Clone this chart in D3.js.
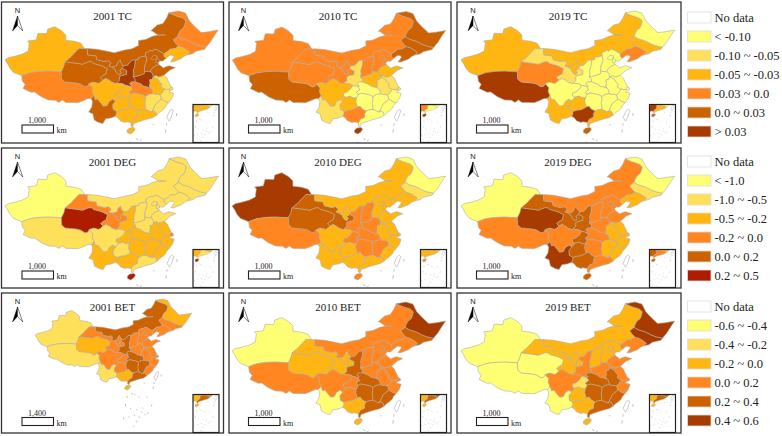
<!DOCTYPE html>
<html>
<head>
<meta charset="utf-8">
<script src="https://cdn.jsdelivr.net/npm/d3@7"></script>
<style>
  html, body { margin: 0; padding: 0; background: #fff; }
  text { font-family: "Liberation Serif", serif; fill: #222; }
</style>
</head>
<body>
<div id="chart"></div>
<script>
// province order used by every value array below (TW has no data)
const provinces = ['XJ','XZ','QH','GS','NM','NX','SN','SX','HE','BJ','TJ','LN','JL','HL','SD','HA','JS','SH','AH','ZJ','HB','HN','JX','FJ','GD','GX','HI','SC','CQ','GZ','YN','TW'];

const tc2001 = [-0.04,-0.01,0.02,0.02,0.02,0.02,0.05,0.02,0.02,0.02,0.02,-0.04,-0.01,-0.01,0.02,0.05,-0.07,-0.07,-0.04,-0.07,-0.01,-0.04,-0.07,-0.07,-0.04,-0.04,-0.04,-0.04,-0.04,-0.04,0.02,null];
const tc2010 = [-0.01,0.02,-0.01,-0.01,-0.01,-0.01,-0.07,-0.01,-0.01,-0.01,-0.01,0.02,0.02,0.02,-0.04,-0.04,-0.07,-0.07,-0.07,-0.12,-0.12,-0.12,-0.12,-0.12,-0.12,-0.01,0.05,-0.04,-0.12,-0.04,-0.07,null];
const tc2019 = [-0.04,0.05,-0.01,-0.07,-0.04,-0.04,-0.12,-0.12,-0.12,-0.12,-0.12,-0.01,-0.04,-0.12,-0.12,-0.12,-0.12,-0.12,-0.12,-0.12,-0.12,-0.12,-0.12,-0.12,-0.04,0.05,0.02,-0.12,-0.12,-0.04,-0.04,null];

const deg2001 = [-1.2,-0.7,0.4,-0.1,-0.7,-0.1,-0.3,-0.7,-0.7,-0.7,-0.7,-0.7,-0.7,-0.7,-0.7,-0.7,-0.3,-0.1,-0.3,-0.3,-0.3,-0.3,-0.3,-0.3,-0.7,-0.3,0.4,-0.7,-0.3,-0.7,-0.3,null];
const deg2010 = [0.25,-0.1,0.1,0.1,-0.3,-0.3,-0.1,-0.1,-0.3,-0.3,-0.3,-0.3,-0.7,-1.2,-0.3,-0.1,-0.3,-0.3,-0.3,-0.3,-0.1,-0.1,-0.1,-0.3,-0.3,-0.3,-0.1,-0.3,-0.1,-0.3,-0.3,null];
const deg2019 = [-1.2,-0.1,0.25,0.1,-0.1,0.1,0.1,-0.1,-0.1,-0.1,-0.1,-0.3,-0.7,-1.2,-0.1,-0.1,-0.3,-0.3,-0.3,-0.3,-0.1,-0.1,-0.3,-0.3,-0.1,0.1,0.1,-0.1,0.1,0.1,0.25,null];

const bet2001 = [-0.3,-0.3,-0.1,0.1,0.3,0.1,0.3,0.1,0.1,0.1,0.1,0.1,0.1,-0.1,0.1,0.1,0.1,0.1,0.1,0.1,0.3,0.3,0.3,0.1,0.3,-0.1,-0.1,0.1,0.1,0.1,-0.3,null];
const bet2010 = [-0.5,0.1,-0.1,-0.1,0.1,-0.1,0.3,0.1,0.1,0.1,0.1,0.1,0.3,0.5,0.1,0.1,0.1,0.1,0.1,0.1,0.3,0.3,0.3,0.3,0.3,-0.1,-0.1,0.1,0.1,0.1,-0.5,null];
const bet2019 = [-0.5,-0.5,-0.5,-0.1,-0.1,-0.1,0.1,-0.1,-0.1,-0.1,-0.1,0.1,0.5,0.5,0.1,0.1,0.1,0.1,0.3,0.1,0.3,0.3,0.3,0.3,0.3,-0.1,-0.1,0.1,-0.3,-0.1,-0.5,null];

const tcLabels = ['< -0.10','-0.10 ~ -0.05','-0.05 ~ -0.03','-0.03 ~ 0.0','0.0 ~ 0.03','> 0.03'];
const degLabels = ['< -1.0','-1.0 ~ -0.5','-0.5 ~ -0.2','-0.2 ~ 0.0','0.0 ~ 0.2','0.2 ~ 0.5'];
const betLabels = ['-0.6 ~ -0.4','-0.4 ~ -0.2','-0.2 ~ 0.0','0.0 ~ 0.2','0.2 ~ 0.4','0.4 ~ 0.6'];

const tcBreaks = [-0.10,-0.05,-0.03,0,0.03];
const degBreaks = [-1,-0.5,-0.2,0,0.2,0.3];
const betBreaks = [-0.4,-0.2,0,0.2,0.4];

const ramp = ['#ffff73','#ffe05a','#ffb613','#ff8620','#cc6200','#a83c00'];
const degRamp = ['#ffff73','#ffe05a','#ffb613','#ff8620','#cc6200','#a83c00','#ad1e00'];
const degLegend = ['#ffff73','#ffe05a','#ffb613','#ff8620','#cc6200','#ad1e00'];

// shared province borders, lon/lat, rough tracing
const arcs = {
  xjOut: [[78.3,35],[76,35.9],[75,37],[74.2,38.5],[73.5,39.5],[74.5,40.2],[76,40.5],[78.5,41.2],[80.2,42.1],[80.3,43],[80.5,44.4],[80,45],[82.5,45.3],[83,47.2],[85.5,47.1],[85.8,48.4],[87.8,49.1],[89.7,48],[91,46.7],[91,45.2],[93.5,44.9],[95.4,44.3],[96.4,42.75]],
  xjGs: [[96.4,42.75],[94.8,42.8],[93.5,41.5],[92.3,40.2],[90.8,39]],
  xjQh: [[90.8,39],[90.4,37.5],[89.7,36.1]],
  xjXz: [[89.7,36.1],[86,36.3],[83,36.2],[80.5,35.8],[78.3,35]],
  xzQh: [[89.7,36.1],[89.8,34],[90.8,33.2],[92.5,33],[94,32.9],[95.2,32.6],[96.5,31.8],[97.3,32],[97.7,32.7]],
  xzSc: [[97.7,32.7],[98.8,31.5],[98.6,30.5],[99.1,29.2]],
  xzYn: [[99.1,29.2],[98.3,28.4]],
  xzOut: [[98.3,28.4],[97.4,28.4],[96,27.8],[94.5,27.2],[92.5,27.3],[91,27.3],[90,28],[89,27.3],[88,27.9],[86,28],[84,28.9],[82,30.3],[81,30.2],[78.7,31.3],[79.3,32.5],[78.5,33.4],[78.3,35]],
  qhGs: [[90.8,39],[93,38.7],[94.5,38.5],[95.8,38.3],[97.5,39],[98.5,39],[99,38.5],[100.5,38.1],[101.5,37.8],[103,37],[102.8,36.3],[102.6,35.5],[101.6,35],[101,34.4],[101.7,33.7]],
  qhSc: [[101.7,33.7],[100.5,32.7],[99,33.1],[97.7,32.7]],
  gsMn: [[96.4,42.75],[97.2,42.8]],
  gsNm: [[97.2,42.8],[97.3,41],[98.5,40.8],[99.7,40.7],[100,39.6],[102,39.1],[103.4,39.3],[104,38.5],[103.4,37.8],[104.3,37.45]],
  gsNx: [[104.3,37.45],[105.2,36.8],[105.4,36.2],[106,35.5],[106.5,35.3],[106.9,35.9],[106.5,36.5],[107.3,37.1]],
  gsSn: [[107.3,37.1],[108.6,36.4],[108.5,35.3],[107,35],[106.5,34.7],[106.5,33.6],[105.5,32.7]],
  gsSc: [[105.5,32.7],[104.4,33],[103.5,33.7],[102.5,34.2],[101.7,33.7]],
  nmOut: [[97.2,42.8],[100,42.6],[102,42.2],[105,41.6],[108,42.4],[110,42.7],[112,43.7],[111.9,45.1],[114,45.4],[116,46.3],[118,46.8],[119.8,46.7],[117.8,46.5],[116,47.8],[115.5,47.9],[117.4,49.6],[119,50],[120,51.5],[120.7,53.1]],
  nmHl: [[120.7,53.1],[122.5,52.3],[124.7,51.6],[125.6,50.8],[125.4,49.8],[125,48.8],[124,48],[123.5,47],[123.3,46.3]],
  nmJl: [[123.3,46.3],[122,45.3],[122.7,44.3],[123.5,43.5]],
  nmLn: [[123.5,43.5],[122.5,42.8],[121,42.6],[120.5,42.1],[119.3,41.3]],
  nmHe: [[119.3,41.3],[118,42],[117.4,42.4],[116.5,42.6],[116,42],[115.5,42.3],[114,41.5],[114.1,40.7]],
  nmSx: [[114.1,40.7],[113.8,40.6],[112,40.2],[111.9,39.6],[111.1,39.5]],
  nmSn: [[111.1,39.5],[110,39.4],[108.8,38],[107.6,37.8]],
  nmNx: [[107.6,37.8],[106.8,38.7],[106.7,39.4],[106,38.8],[105.8,38],[105.2,37.6],[104.3,37.45]],
  nxSn: [[107.6,37.8],[107.3,37.1]],
  snSx: [[111.1,39.5],[110.9,37.8],[110.5,36.5],[110.6,35.6],[110.4,34.6]],
  snHa: [[110.4,34.6],[111,34],[111,33.2]],
  snHb: [[111,33.2],[110,33.2],[109.4,32.7],[110.1,32],[109.5,31.9]],
  snCq: [[109.5,31.9],[108.2,32.2]],
  snSc: [[108.2,32.2],[107.2,32.7],[106,32.8],[105.5,32.7]],
  sxHe: [[114.1,40.7],[114.4,39.5],[114,38.5],[113.7,37.5],[113.7,36.4]],
  sxHa: [[113.7,36.4],[113.7,35.6],[112.5,35.1],[111.5,34.8],[110.4,34.6]],
  heLn: [[119.3,41.3],[119.3,40.6],[119.9,40]],
  heCoast: [[119.9,40],[119,39.2],[118,39.2],[117.6,38.7],[117.85,38.2]],
  heSd: [[117.85,38.2],[116.8,37.8],[115.8,37],[115.4,36.1]],
  heHa: [[115.4,36.1],[114,36.2],[113.7,36.4]],
  lnJl: [[123.5,43.5],[124.8,43.1],[125.8,42.5],[126.8,41.7],[126,41]],
  lnCoast: [[126,41],[125,40.5],[124.3,39.9],[122,39],[121.2,39],[122.2,40.4],[121.9,40.8],[121,40.9],[119.9,40]],
  jlHl: [[123.3,46.3],[124.5,45.6],[126.5,45],[128,44.2],[129.5,43.6],[131.4,43.2]],
  jlOut: [[131.4,43.2],[131,42.6],[130.2,42.4],[128.5,42],[127.5,41.3],[126,41]],
  hlOut: [[120.7,53.1],[123.5,53.6],[125.5,53],[126.6,50.8],[128,49.3],[130,47.4],[132,47.6],[134.9,48.1],[133.8,46.5],[132.6,44.6],[131.4,43.2]],
  sdCoast: [[117.85,38.2],[118.9,37.4],[119.1,37.2],[120,37.6],[120.8,37.85],[122.6,37.3],[121,36.6],[120.3,36],[119.3,35.1]],
  sdJs: [[119.3,35.1],[118.4,34.7],[117.6,34.6],[117,35],[116.2,34.6]],
  sdHa: [[116.2,34.6],[116,35.6],[115.4,36.1]],
  haAh: [[116.2,34.6],[115.9,33.9],[115.2,33.8],[115.3,32.8],[115.1,32],[115.4,31.4]],
  haHb: [[115.4,31.4],[114.2,31.8],[113.5,31.9],[112.6,32.6],[111.5,33],[111,33.2]],
  jsCoast: [[119.3,35.1],[120.2,34.3],[120.5,33.5],[120.9,32.7],[121.3,31.85]],
  jsSh: [[121.3,31.85],[121.2,31.6],[120.9,31]],
  jsZj: [[120.9,31],[120.4,30.95],[119.5,31.1]],
  jsAh: [[119.5,31.1],[119.2,31.2],[118.4,31.8],[118.6,32.5],[118.3,32.9],[118,33.2],[117.5,34],[116.6,34.4],[116.2,34.6]],
  ahZj: [[119.5,31.1],[118.9,30.1],[118.2,29.4]],
  ahJx: [[118.2,29.4],[117.4,29.6],[116.7,29.6],[116.1,29.8]],
  ahHb: [[116.1,29.8],[116,30.5],[115.7,31.2],[115.4,31.4]],
  shCoast: [[121.3,31.85],[121.9,31.5],[121.9,31],[121.2,30.7]],
  shZj: [[121.2,30.7],[120.9,31]],
  zjCoast: [[121.2,30.7],[120.7,30.3],[121.7,30.1],[122.1,29.9],[121.8,29],[121.5,28.3],[120.6,27.2]],
  zjFj: [[120.6,27.2],[119.6,27.6],[118.8,28.1],[118.5,28.3]],
  zjJx: [[118.5,28.3],[118.2,29.4]],
  jxFj: [[118.5,28.3],[118,27.7],[117,27],[116.5,25.9],[116,24.9]],
  jxGd: [[116,24.9],[115.9,24.5],[115,24.8],[114,25.3]],
  jxHn: [[114,25.3],[114,26.2],[113.8,27],[114,28],[114,29]],
  jxHb: [[114,29],[115,29.6],[116.1,29.8]],
  fjCoast: [[120.6,27.2],[119.9,26.4],[119.6,25.7],[118.9,25],[118,24.4],[117.2,23.6]],
  fjGd: [[117.2,23.6],[116.8,24.6],[116,24.9]],
  gdCoast: [[117.2,23.6],[116,22.9],[114.5,22.5],[113.5,22.2],[112,21.7],[110.6,21.2],[110.3,20.3],[109.8,20.5],[109.8,21.5]],
  gdGx: [[109.8,21.5],[110.4,22.5],[111.5,23],[111.6,24.2],[112,24.8]],
  gdHn: [[112,24.8],[113,25.2],[114,25.3]],
  gxOut: [[109.8,21.5],[108.5,21.7],[108,21.5],[106.7,22],[106,22.9],[105.3,23.3]],
  gxYn: [[105.3,23.3],[105.6,24.1],[105.6,24.7]],
  gxGz: [[105.6,24.7],[106.9,25.1],[108,25.2],[109.5,26]],
  gxHn: [[109.5,26],[110.3,26.2],[110.9,25.4],[112,24.8]],
  hnGz: [[109.5,26],[109,27.5],[109.2,28.6]],
  hnCq: [[109.2,28.6],[109.7,29.6]],
  hnHb: [[109.7,29.6],[110.6,30],[112,29.7],[113,29.5],[114,29]],
  hbCq: [[109.7,29.6],[109.2,30.3],[110.2,31],[109.5,31.9]],
  cqGz: [[109.2,28.6],[108.3,28.6],[107.4,29.1],[106.3,28.8]],
  cqSc: [[106.3,28.8],[105.5,29.2],[105.6,30],[106.5,30.3],[107.5,31.1],[108.2,32.2]],
  gzYn: [[105.6,24.7],[104.6,25.3],[104.5,26.7],[105.3,27.7]],
  gzSc: [[105.3,27.7],[106.3,28.8]],
  scYn: [[105.3,27.7],[104.5,28.2],[103.5,27.5],[102.9,26.3],[101.8,26.2],[101,27.2],[100.2,28.2],[99.5,28],[99.1,29.2]],
  ynOut: [[105.3,23.3],[104,22.8],[102.5,22.6],[101.7,21.2],[100.5,21.5],[99.2,22.2],[98.8,24],[97.6,24.5],[98.5,26],[98.7,27.6],[98.3,28.4]],
  hiRing: [[110.6,20.1],[111,19.6],[110.5,18.8],[109.6,18.2],[108.7,18.6],[108.7,19.3],[109.3,19.9],[110.6,20.1]],
  bjRing: [[115.5,39.9],[116.3,40.9],[117.4,40.6],[117.1,39.9],[116.7,39.6],[115.9,39.6],[115.5,39.9]],
  tjRing: [[117.3,40.2],[117.9,39.5],[117.9,39.1],[117.6,38.6],[116.9,38.8],[117.1,39.5],[117.3,40.2]],
  twRing: [[121.6,25.3],[122,25],[121.4,23.1],[120.8,21.9],[120.1,23],[121,25],[121.6,25.3]]
};

// each ring is a list of arcs, '-' means walk it backwards
const rings = {
  XJ: ['xjOut','xjGs','xjQh','xjXz'],
  XZ: ['-xjXz','xzQh','xzSc','xzYn','xzOut'],
  QH: ['-xjQh','qhGs','qhSc','-xzQh'],
  GS: ['-xjGs','gsMn','gsNm','gsNx','gsSn','gsSc','-qhGs'],
  NM: ['nmOut','nmHl','nmJl','nmLn','nmHe','nmSx','nmSn','nmNx','-gsNm'],
  NX: ['-nmNx','nxSn','-gsNx'],
  SN: ['-nmSn','snSx','snHa','snHb','snCq','snSc','-gsSn','-nxSn'],
  SX: ['-nmSx','sxHe','sxHa','-snSx'],
  HE: ['-nmHe','heLn','heCoast','heSd','heHa','-sxHe'],
  BJ: ['bjRing'],
  TJ: ['tjRing'],
  LN: ['-nmLn','lnJl','lnCoast','-heLn'],
  JL: ['-nmJl','jlHl','jlOut','-lnJl'],
  HL: ['hlOut','-jlHl','-nmHl'],
  SD: ['-heSd','sdCoast','sdJs','sdHa'],
  HA: ['-sdHa','haAh','haHb','-snHa','-sxHa','-heHa'],
  JS: ['-sdJs','jsCoast','jsSh','jsZj','jsAh'],
  SH: ['-jsSh','shCoast','shZj'],
  AH: ['-haAh','-jsAh','ahZj','ahJx','ahHb'],
  ZJ: ['-jsZj','-shZj','zjCoast','zjFj','zjJx','-ahZj'],
  HB: ['-ahHb','-jxHb','-hnHb','hbCq','-snHb','-haHb'],
  HN: ['-gdHn','-gxHn','hnGz','hnCq','hnHb','-jxHn'],
  JX: ['-ahJx','-zjJx','jxFj','jxGd','jxHn','jxHb'],
  FJ: ['-zjFj','fjCoast','fjGd','-jxFj'],
  GD: ['-fjGd','gdCoast','gdGx','gdHn','-jxGd'],
  GX: ['-gdGx','gxOut','gxYn','gxGz','gxHn'],
  HI: ['hiRing'],
  SC: ['-snSc','-cqSc','-gzSc','scYn','-xzSc','-qhSc','-gsSc'],
  CQ: ['-snCq','-hbCq','-hnCq','cqGz','cqSc'],
  GZ: ['-hnGz','-gxGz','gzYn','gzSc','-cqGz'],
  YN: ['-scYn','-gzYn','-gxYn','ynOut','-xzYn'],
  TW: ['twRing']
};

// South China Sea dashes and islets
const seaDashes = [
  [[122.9,24.2],[122.9,23.4]],[[119.9,19.6],[119.7,18.6]],[[120.1,21.3],[120,20.6]],
  [[116.1,20.9],[116.5,20.8]],[[111.2,16.9],[111.9,16.5]],[[112.3,16.2],[112.8,16.6]],
  [[109.5,16],[109.6,15.1]],[[108.9,12.8],[109,11.9]],[[117.2,15.6],[117.7,15.2]],
  [[119.3,12.6],[119.1,11.8]],[[118,9.6],[117.5,8.9]],[[111.8,4.2],[112.4,3.9]],
  [[108.3,6.8],[108.1,7.6]],[[110.6,11.2],[111.1,10.8]],[[113.1,10.7],[113.6,10.3]],
  [[115,9.9],[115.5,9.3]],[[112.1,8.6],[112.7,8.2]],[[114.1,7.9],[114.7,7.5]],
  [[116.3,8.9],[116.8,8.4]],[[113,6.1],[113.6,5.9]],[[110.1,7.9],[110.5,7.4]],
  [[115.4,11.4],[115.9,11]],[[114,15.6],[114.4,15.3]]
];

const colX = [1.5, 229, 457];
const colW = [222, 222, 224];
const rowY = [2, 148, 293];
const rowH = [141, 140, 140];

// mapW/mapE: pixel x of 73.5E and 135E, mapN/mapS: pixel y of 53.6N and 18.2N
const panels = [
  { title:'2001 TC', values:tc2001, kind:'tc', col:0, row:0, mapW:5, mapE:218.5, mapN:11, mapS:134, km:'1,000' },
  { title:'2010 TC', values:tc2010, kind:'tc', col:1, row:0, mapW:232.3, mapE:446, mapN:11.5, mapS:134, km:'1,000' },
  { title:'2019 TC', values:tc2019, kind:'tc', col:2, row:0, mapW:461, mapE:675, mapN:11, mapS:134, km:'1,000' },
  { title:'2001 DEG', values:deg2001, kind:'deg', col:0, row:1, mapW:5, mapE:219, mapN:157, mapS:280, km:'1,000' },
  { title:'2010 DEG', values:deg2010, kind:'deg', col:1, row:1, mapW:232, mapE:446, mapN:157, mapS:280, km:'1,000' },
  { title:'2019 DEG', values:deg2019, kind:'deg', col:2, row:1, mapW:461, mapE:675, mapN:157, mapS:280, km:'1,000' },
  { title:'2001 BET', values:bet2001, kind:'bet', col:0, row:2, mapW:35, mapE:192, mapN:299, mapS:390, km:'1,400' },
  { title:'2010 BET', values:bet2010, kind:'bet', col:1, row:2, mapW:232, mapE:446, mapN:302, mapS:425, km:'1,000' },
  { title:'2019 BET', values:bet2019, kind:'bet', col:2, row:2, mapW:461, mapE:675, mapN:302, mapS:425, km:'1,000' }
];

const scales = {
  tc: d3.scaleThreshold().domain(tcBreaks).range(ramp),
  deg: d3.scaleThreshold().domain(degBreaks).range(degRamp),
  bet: d3.scaleThreshold().domain(betBreaks).range(ramp)
};

const width = 782, height = 436;
const borderGrey = '#adadad';

const svg = d3.select('#chart').append('svg')
  .attr('width', width)
  .attr('height', height)
  .style('display', 'block');

function ringCoords(names) {
  const out = [];
  names.forEach(n => {
    const back = n[0] === '-';
    const pts = arcs[back ? n.slice(1) : n].slice();
    if (back) pts.reverse();
    pts.forEach((p, i) => { if (i > 0 || out.length === 0) out.push(p); });
  });
  return out;
}

const features = provinces.map(id => ({
  type: 'Feature',
  id: id,
  geometry: { type: 'Polygon', coordinates: [ringCoords(rings[id])] }
}));

const dashFeature = { type: 'MultiLineString', coordinates: seaDashes };

function makePath(xScale, yScale) {
  return d3.geoPath(d3.geoTransform({
    point(lon, lat) { this.stream.point(xScale(lon), yScale(lat)); }
  }));
}

function drawMap(g, path, values, color, strokeW) {
  g.selectAll('path.prov')
    .data(features)
    .enter()
    .append('path')
    .attr('class', 'prov')
    .attr('d', path)
    .attr('fill', (d, i) => values[i] === null ? '#fff' : color(values[i]))
    .attr('stroke', borderGrey)
    .attr('stroke-width', strokeW)
    .attr('stroke-linejoin', 'round');
  g.append('path')
    .attr('d', path(dashFeature))
    .attr('fill', 'none')
    .attr('stroke', '#999')
    .attr('stroke-width', strokeW);
}

panels.forEach((p, idx) => {
  const fx = colX[p.col], fy = rowY[p.row], fw = colW[p.col], fh = rowH[p.row];
  const g = svg.append('g');

  svg.append('clipPath').attr('id', 'clip' + idx)
    .append('rect').attr('x', fx).attr('y', fy).attr('width', fw).attr('height', fh);

  // main map
  const xScale = d3.scaleLinear().domain([73.5, 135]).range([p.mapW, p.mapE]);
  const yScale = d3.scaleLinear().domain([53.6, 18.2]).range([p.mapN, p.mapS]);
  const mapG = g.append('g').attr('clip-path', `url(#clip${idx})`);
  drawMap(mapG, makePath(xScale, yScale), p.values, scales[p.kind], 0.6);

  // frame
  g.append('rect')
    .attr('x', fx).attr('y', fy).attr('width', fw).attr('height', fh)
    .attr('fill', 'none').attr('stroke', '#333').attr('stroke-width', 1.3);

  // title
  g.append('text')
    .attr('x', fx + 111 - (p.col === 1 ? 2 : 0))
    .attr('y', fy + 18)
    .attr('text-anchor', 'middle')
    .attr('font-size', 11)
    .text(p.title);

  // north arrow
  const nx = fx + (p.col === 1 ? 14.5 : 16);
  const ny = fy + 14;
  g.append('text').attr('x', nx).attr('y', ny - 3).attr('text-anchor', 'middle')
    .attr('font-size', 7.5).style('font-family', '"Liberation Sans", sans-serif').text('N');
  g.append('path').attr('d', `M${nx},${ny}L${nx - 5},${ny + 15}L${nx},${ny + 9.5}Z`).attr('fill', '#000').attr('stroke', '#000').attr('stroke-width', 0.4);
  g.append('path').attr('d', `M${nx},${ny}L${nx + 5.3},${ny + 15}L${nx},${ny + 9.5}Z`).attr('fill', '#fff').attr('stroke', '#000').attr('stroke-width', 0.5);

  // scale bar
  const bx = fx + (p.col === 0 ? 20.5 : 19.5);
  const by = fy + (p.row === 2 ? 124.5 : 123);
  g.append('rect').attr('x', bx).attr('y', by).attr('width', 31.5).attr('height', 8)
    .attr('fill', '#fff').attr('stroke', '#222').attr('stroke-width', 1.1);
  g.append('text').attr('x', bx + 15).attr('y', by - 2).attr('text-anchor', 'middle').attr('font-size', 8).text(p.km);
  g.append('text').attr('x', bx + 34.5).attr('y', by + 8).attr('font-size', 8).text('km');

  // inset with the South China Sea
  const inW = 26, inH = 38;
  const inX = fx + fw - inW - (p.col === 2 ? 5.5 : 4.5), inY = fy + fh - inH - 0.5;
  svg.append('clipPath').attr('id', 'inset' + idx)
    .append('rect').attr('x', inX).attr('y', inY).attr('width', inW).attr('height', inH);
  g.append('rect').attr('x', inX).attr('y', inY).attr('width', inW).attr('height', inH).attr('fill', '#fff');
  const inXs = d3.scaleLinear().domain([107.5, 122.8]).range([inX, inX + inW]);
  const inYs = d3.scaleLinear().domain([25.6, 3]).range([inY, inY + inH]);
  const inG = g.append('g').attr('clip-path', `url(#inset${idx})`);
  drawMap(inG, makePath(inXs, inYs), p.values, scales[p.kind], 0.4);
  g.append('rect').attr('x', inX).attr('y', inY).attr('width', inW).attr('height', inH)
    .attr('fill', 'none').attr('stroke', '#222').attr('stroke-width', 1.2);
});

// legends
const legends = [
  { labels: tcLabels, colors: ramp, top: 12 },
  { labels: degLabels, colors: degLegend, top: 156 },
  { labels: betLabels, colors: ramp, top: 301 }
];

legends.forEach(l => {
  const names = ['No data'].concat(l.labels);
  const fills = ['#fff'].concat(l.colors);
  const row = svg.append('g').selectAll('g')
    .data(names)
    .enter()
    .append('g')
    .attr('transform', (d, i) => `translate(687.5,${l.top + i * 19})`);
  row.append('rect')
    .attr('width', 23.5)
    .attr('height', 11)
    .attr('fill', (d, i) => fills[i])
    .attr('stroke', '#ddd')
    .attr('stroke-width', 0.8);
  row.append('text')
    .attr('x', 27)
    .attr('y', 9.5)
    .attr('font-size', 12.5)
    .text(d => d);
});
</script>
</body>
</html>
